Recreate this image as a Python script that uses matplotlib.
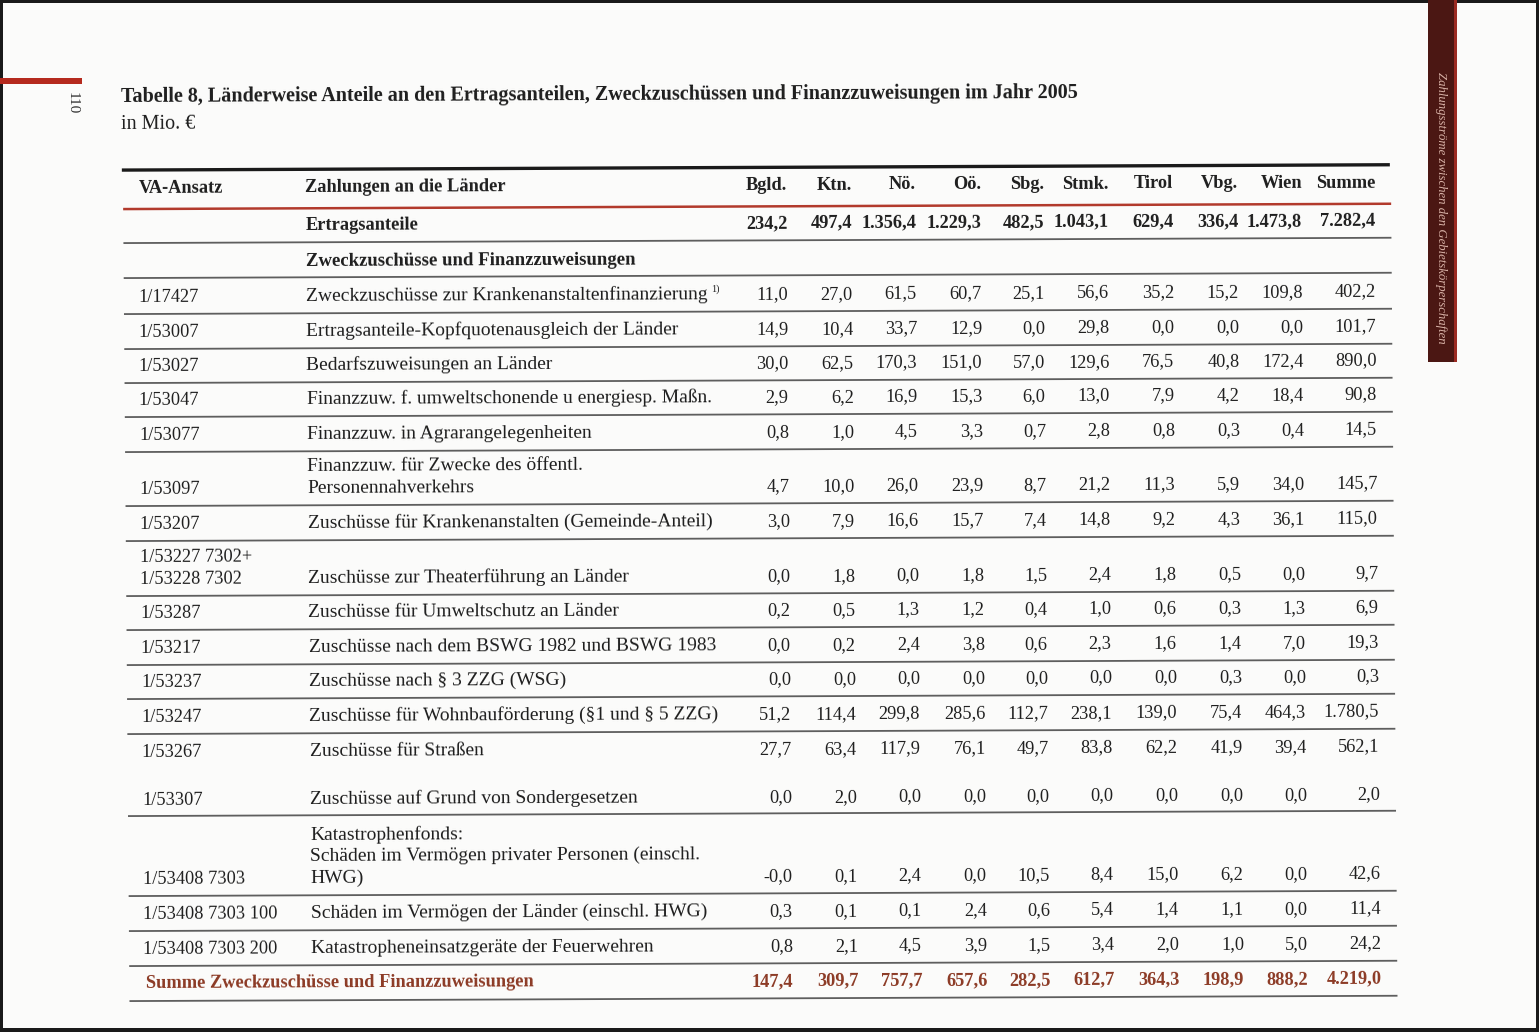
import math
import matplotlib
matplotlib.use("Agg")
import matplotlib.pyplot as plt
from matplotlib.patches import Rectangle

# ---------------- data ----------------
laender = ["Bgld.", "Ktn.", "Nö.", "Oö.", "Sbg.", "Stmk.", "Tirol", "Vbg.", "Wien", "Summe"]

ertragsanteile = [234.2, 497.4, 1356.4, 1229.3, 482.5, 1043.1, 629.4, 336.4, 1473.8, 7282.4]

va_ansatz = [
    "1/17427", "1/53007", "1/53027", "1/53047", "1/53077", "1/53097", "1/53207",
    "1/53227 7302+\n1/53228 7302", "1/53287", "1/53217", "1/53237", "1/53247",
    "1/53267", "1/53307", "1/53408 7303", "1/53408 7303 100", "1/53408 7303 200",
]
zahlungen = [
    "Zweckzuschüsse zur Krankenanstaltenfinanzierung",
    "Ertragsanteile-Kopfquotenausgleich der Länder",
    "Bedarfszuweisungen an Länder",
    "Finanzzuw. f. umweltschonende u energiesp. Maßn.",
    "Finanzzuw. in Agrarangelegenheiten",
    "Finanzzuw. für Zwecke des öffentl.\nPersonennahverkehrs",
    "Zuschüsse für Krankenanstalten (Gemeinde-Anteil)",
    "Zuschüsse zur Theaterführung an Länder",
    "Zuschüsse für Umweltschutz an Länder",
    "Zuschüsse nach dem BSWG 1982 und BSWG 1983",
    "Zuschüsse nach § 3 ZZG (WSG)",
    "Zuschüsse für Wohnbauförderung (§1 und § 5 ZZG)",
    "Zuschüsse für Straßen",
    "Zuschüsse auf Grund von Sondergesetzen",
    "Katastrophenfonds:\nSchäden im Vermögen privater Personen (einschl.\nHWG)",
    "Schäden im Vermögen der Länder (einschl. HWG)",
    "Katastropheneinsatzgeräte der Feuerwehren",
]
werte = [
    [11.0, 27.0, 61.5, 60.7, 25.1, 56.6, 35.2, 15.2, 109.8, 402.2],
    [14.9, 10.4, 33.7, 12.9, 0.0, 29.8, 0.0, 0.0, 0.0, 101.7],
    [30.0, 62.5, 170.3, 151.0, 57.0, 129.6, 76.5, 40.8, 172.4, 890.0],
    [2.9, 6.2, 16.9, 15.3, 6.0, 13.0, 7.9, 4.2, 18.4, 90.8],
    [0.8, 1.0, 4.5, 3.3, 0.7, 2.8, 0.8, 0.3, 0.4, 14.5],
    [4.7, 10.0, 26.0, 23.9, 8.7, 21.2, 11.3, 5.9, 34.0, 145.7],
    [3.0, 7.9, 16.6, 15.7, 7.4, 14.8, 9.2, 4.3, 36.1, 115.0],
    [0.0, 1.8, 0.0, 1.8, 1.5, 2.4, 1.8, 0.5, 0.0, 9.7],
    [0.2, 0.5, 1.3, 1.2, 0.4, 1.0, 0.6, 0.3, 1.3, 6.9],
    [0.0, 0.2, 2.4, 3.8, 0.6, 2.3, 1.6, 1.4, 7.0, 19.3],
    [0.0, 0.0, 0.0, 0.0, 0.0, 0.0, 0.0, 0.3, 0.0, 0.3],
    [51.2, 114.4, 299.8, 285.6, 112.7, 238.1, 139.0, 75.4, 464.3, 1780.5],
    [27.7, 63.4, 117.9, 76.1, 49.7, 83.8, 62.2, 41.9, 39.4, 562.1],
    [0.0, 2.0, 0.0, 0.0, 0.0, 0.0, 0.0, 0.0, 0.0, 2.0],
    [-0.0, 0.1, 2.4, 0.0, 10.5, 8.4, 15.0, 6.2, 0.0, 42.6],
    [0.3, 0.1, 0.1, 2.4, 0.6, 5.4, 1.4, 1.1, 0.0, 11.4],
    [0.8, 2.1, 4.5, 3.9, 1.5, 3.4, 2.0, 1.0, 5.0, 24.2],
]
summe_zweck = [147.4, 309.7, 757.7, 657.6, 282.5, 612.7, 364.3, 198.9, 888.2, 4219.0]

title = "Tabelle 8, Länderweise Anteile an den Ertragsanteilen, Zweckzuschüssen und Finanzzuweisungen im Jahr 2005"
subtitle = "in Mio. €"
sidebar_text = "Zahlungsströme zwischen den Gebietskörperschaften"
page_no = "110"


def fmt(v):
    s = f"{v:,.1f}"
    return s.replace(",", "X").replace(".", ",").replace("X", ".")


# ---------------- layout ----------------
W, H = 1539, 1032
fig = plt.figure(figsize=(W / 100, H / 100), dpi=100)
fig.patch.set_facecolor("#fbfbfa")
ax = fig.add_axes([0, 0, 1, 1])
ax.set_xlim(0, W)
ax.set_ylim(H, 0)
ax.axis("off")

FONT = "Liberation Serif"
FS = 13.2      # numbers, headers, VA column
FS_D = 14.0    # description column (regular)
TXT = "#1e1e1e"
BROWN = "#8c3a25"
LINE = "#5e5e5e"

# slight scan distortion of the printed page (tilt + shear)
TILT = 0.0042   # right side higher
SHEAR = 0.008   # lower rows shifted right
X0, Y0 = 140.0, 190.0


def T(x, y):
    return (x + SHEAR * (y - Y0), y - TILT * (x - X0))


ANG = math.degrees(math.atan(TILT))


def txt(x, y, s, **kw):
    xx, yy = T(x, y)
    ax.text(xx, yy, s, rotation=ANG, rotation_mode="anchor", family=FONT, **kw)


def hline(x0, x1, y, **kw):
    a = T(x0, y)
    b = T(x1, y)
    ax.plot([a[0], b[0]], [a[1], b[1]], solid_capstyle="butt", **kw)


# page frame
for (x, y, w, h) in [(0, 0, W, 3), (0, 0, 3, H), (0, H - 4, W, 4), (W - 3, 0, 3, H)]:
    ax.add_patch(Rectangle((x, y), w, h, color="#1a1a1a", lw=0))

# red mark top-left and page number
ax.add_patch(Rectangle((0, 78), 82, 6, color="#b52a1e", lw=0))
ax.text(72, 103, page_no, rotation=-90, ha="center", va="center",
        fontsize=11, family=FONT, color="#333333")

# sidebar
ax.add_patch(Rectangle((1428, 0), 28, 362, color="#4b1713", lw=0))
ax.add_patch(Rectangle((1454, 0), 2.5, 362, color="#9b2a22", lw=0))
ax.text(1441, 208, sidebar_text, rotation=-90, ha="center", va="center",
        fontsize=9.2, family=FONT, style="italic", color="#d8b1a6")

# title
txt(122, 97, title, ha="left", va="center", fontsize=14.5, weight="bold", color=TXT)
txt(122, 124, subtitle, ha="left", va="center", fontsize=14.5, color=TXT)

col_right = [787, 852, 916, 981, 1044, 1108, 1173, 1238, 1302, 1375]
X_VA = 137
X_TXT = 305
L0, L1 = 123, 1391

# table lines
hline(122, 1390, 170, color="#1a1a1a", lw=2.4)
hline(L0, L1, 209, color="#b23a2c", lw=1.8)

# header
txt(X_VA + 2, 188, "VA-Ansatz", ha="left", va="center", fontsize=FS, weight="bold", color=TXT)
txt(X_TXT, 188, "Zahlungen an die Länder", ha="left", va="center", fontsize=FS,
    weight="bold", color=TXT)
for xr, lab in zip(col_right, laender):
    txt(xr, 188, lab, ha="right", va="center", fontsize=FS, weight="bold", color=TXT)

# Ertragsanteile
txt(X_TXT, 226, "Ertragsanteile", ha="left", va="center", fontsize=FS, weight="bold", color=TXT)
for xr, v in zip(col_right, ertragsanteile):
    txt(xr, 226, fmt(v), ha="right", va="center", fontsize=FS, weight="bold", color=TXT)
hline(L0, L1, 243, color=LINE, lw=1.3)

txt(X_TXT, 262, "Zweckzuschüsse und Finanzzuweisungen", ha="left", va="center",
    fontsize=13.5, weight="bold", color=TXT)
hline(L0, L1, 278, color=LINE, lw=1.3)

# body rows: y of last text line, y of separator below (None = no line)
row_y = [297, 332, 366, 400, 435, 489, 524, 579, 613, 648, 682, 717, 752, 800, 879, 914, 949]
line_y = [314, 349, 383, 417, 452, 506, 541, 596, 630, 665, 699, 734, None, 816, 896, 931, 966]
LINE_SP = 21.5

for i, (va, z, vals) in enumerate(zip(va_ansatz, zahlungen, werte)):
    y = row_y[i]
    va_lines = va.split("\n")
    for k, t in enumerate(va_lines):
        txt(X_VA, y - (len(va_lines) - 1 - k) * LINE_SP, t, ha="left", va="center",
            fontsize=FS, color=TXT)
    z_lines = z.split("\n")
    for k, t in enumerate(z_lines):
        txt(X_TXT, y - (len(z_lines) - 1 - k) * LINE_SP, t, ha="left", va="center",
            fontsize=FS_D, color=TXT)
    if i == 0:
        txt(710, y - 5, "1)", ha="left", va="center", fontsize=7.5, color=TXT)
    for xr, v in zip(col_right, vals):
        txt(xr, y, fmt(v), ha="right", va="center", fontsize=FS, color=TXT)
    if line_y[i] is not None:
        hline(L0, L1, line_y[i], color=LINE, lw=1.3)

# sum row
txt(140, 984, "Summe Zweckzuschüsse und Finanzzuweisungen", ha="left", va="center",
    fontsize=FS, weight="bold", color=BROWN)
for xr, v in zip(col_right, summe_zweck):
    txt(xr, 984, fmt(v), ha="right", va="center", fontsize=FS, weight="bold", color=BROWN)
hline(L0, L1, 1001, color=LINE, lw=1.3)

fig.savefig("out.png", dpi=100, facecolor=fig.get_facecolor())
